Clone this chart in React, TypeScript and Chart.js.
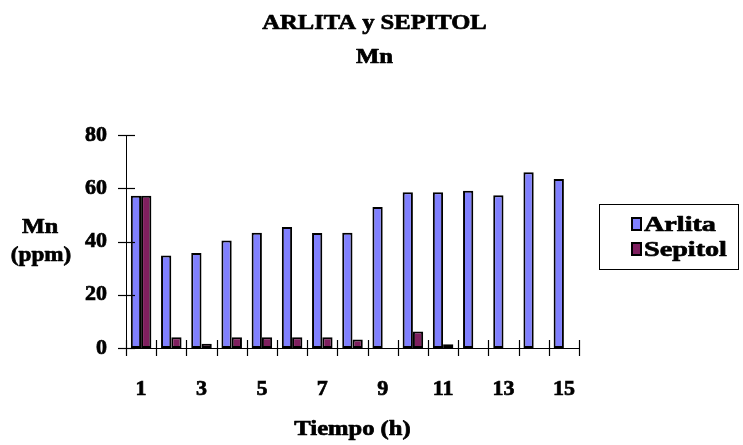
import React, { useEffect, useRef } from 'react';
import { Chart, registerables } from 'chart.js';

Chart.register(...registerables);

const categories = ['1', '2', '3', '4', '5', '6', '7', '8', '9', '10', '11', '12', '13', '14', '15'];
const arlita = [57.2, 34.7, 35.7, 40.4, 43.3, 45.4, 43.2, 43.3, 53.0, 58.5, 58.5, 59.1, 57.4, 66.0, 63.5];
const sepitol = [57.2, 4.0, 1.6, 4.0, 4.0, 4.0, 4.0, 3.2, null, 6.2, 1.4, null, null, null, null];
const seriesNames = ['Arlita', 'Sepitol'];
const seriesColors = ['#8080FF', '#7F1F5F'];
const yMin = 0;
const yMax = 80;
const yStep = 20;
const titleLines = ['ARLITA y SEPITOL', 'Mn'];
const yTitleLines = ['Mn', '(ppm)'];
const xTitle = 'Tiempo (h)';

const FONT = "'Liberation Serif', serif";

function stretchText(ctx: CanvasRenderingContext2D, text: string, x: number, y: number, size: number, sx: number, align: CanvasTextAlign = 'center') {
  ctx.save();
  ctx.translate(x, y);
  ctx.scale(sx, 1);
  ctx.font = `bold ${size}px ${FONT}`;
  ctx.fillStyle = '#000';
  ctx.strokeStyle = '#000';
  ctx.lineWidth = 0.7;
  ctx.lineJoin = 'round';
  ctx.textAlign = align;
  ctx.textBaseline = 'alphabetic';
  ctx.strokeText(text, 0, 0);
  ctx.fillText(text, 0, 0);
  ctx.restore();
}

const decorPlugin = {
  id: 'decor',
  afterDraw(chart: any) {
    const { ctx, scales } = chart;
    const xs = scales.x;
    const ys = scales.y;
    ctx.save();
    ctx.strokeStyle = '#000';
    ctx.lineWidth = 1.2;
    const ax = xs.left;
    ys.ticks.forEach((t: any) => {
      const py = Math.round(ys.getPixelForValue(t.value)) + 0.5;
      ctx.beginPath();
      ctx.moveTo(ax - 8, py);
      ctx.lineTo(ax + 9, py);
      ctx.stroke();
    });
    const ay = ys.getPixelForValue(0);
    for (let i = 0; i <= categories.length; i++) {
      const px = Math.round(xs.getPixelForValue(i - 0.5)) + 0.5;
      ctx.beginPath();
      ctx.moveTo(px, ay - 8);
      ctx.lineTo(px, ay + 8);
      ctx.stroke();
    }
    ctx.restore();

    const cx = chart.width / 2 + 3;
    stretchText(ctx, titleLines[0], cx, 29, 21, 1.17);
    stretchText(ctx, titleLines[1], cx, 63, 21, 1.17);
    stretchText(ctx, yTitleLines[0], 40, 233, 21, 1.15);
    stretchText(ctx, yTitleLines[1], 41, 261, 21, 1.1);
    const xc = (xs.left + xs.right) / 2;
    stretchText(ctx, xTitle, xc, 435, 21, 1.17);

    ctx.save();
    ctx.strokeStyle = '#000';
    ctx.lineWidth = 1;
    ctx.strokeRect(599.5, 204.5, 139, 65);
    const rows = [224, 249];
    seriesNames.forEach((name, i) => {
      const cy = rows[i];
      ctx.fillStyle = seriesColors[i];
      ctx.fillRect(632, cy - 6, 9, 12);
      ctx.lineWidth = 2;
      ctx.strokeRect(632, cy - 6, 9, 12);
      stretchText(ctx, name, 644, cy + 7, 22, 1.28, 'left');
    });
    ctx.restore();
  },
};

export default function App() {
  const ref = useRef<HTMLCanvasElement | null>(null);

  useEffect(() => {
    document.body.style.margin = '0';
    const canvas = ref.current;
    if (!canvas) return;
    let chart: Chart | null = null;
    let cancelled = false;
    const build = () => {
      if (cancelled) return;
      chart = new Chart(canvas, {
        type: 'bar',
        data: {
          labels: categories,
          datasets: [
            {
              label: seriesNames[0],
              data: arlita,
              backgroundColor: seriesColors[0],
              borderColor: '#000',
              borderWidth: 2,
              borderSkipped: false,
            },
            {
              label: seriesNames[1],
              data: sepitol,
              backgroundColor: seriesColors[1],
              borderColor: '#000',
              borderWidth: 2,
              borderSkipped: false,
            },
          ],
        },
        options: {
          responsive: false,
          animation: false,
          devicePixelRatio: 1,
          layout: { padding: { top: 135, right: 164, bottom: 0, left: 0 } },
          plugins: {
            legend: { display: false },
            title: { display: false },
            tooltip: { enabled: false },
          },
          datasets: {
            bar: { categoryPercentage: 0.68, barPercentage: 1 },
          },
          scales: {
            x: {
              grid: { display: false, drawTicks: false },
              border: { display: true, color: '#000', width: 1 },
              ticks: {
                autoSkip: false,
                maxRotation: 0,
                color: '#000',
                padding: 28,
                textStrokeColor: '#000',
                textStrokeWidth: 0.7,
                font: { family: FONT, size: 22, weight: 'bold' },
                callback: (_v: any, i: number) => (i % 2 === 0 ? categories[i] : ''),
              },
              afterFit: (s: any) => {
                s.height = 97;
              },
            },
            y: {
              min: yMin,
              max: yMax,
              grid: { display: false, drawTicks: false },
              border: { display: true, color: '#000', width: 1 },
              ticks: {
                stepSize: yStep,
                color: '#000',
                padding: 19,
                textStrokeColor: '#000',
                textStrokeWidth: 0.7,
                font: { family: FONT, size: 22, weight: 'bold' },
              },
              afterFit: (s: any) => {
                s.width = 126;
              },
            },
          },
        },
        plugins: [decorPlugin],
      });
    };
    const fontsApi = (document as any).fonts;
    if (fontsApi && fontsApi.load) {
      Promise.all([
        fontsApi.load(`bold 22px 'Liberation Serif'`),
        fontsApi.load(`22px 'Liberation Serif'`),
      ]).then(build, build);
    } else {
      build();
    }
    return () => {
      cancelled = true;
      if (chart) chart.destroy();
    };
  }, []);

  return (
    <div style={{ width: 743, height: 445, position: 'relative' }}>
      <canvas ref={ref} width={743} height={445} style={{ display: 'block' }} />
    </div>
  );
}
